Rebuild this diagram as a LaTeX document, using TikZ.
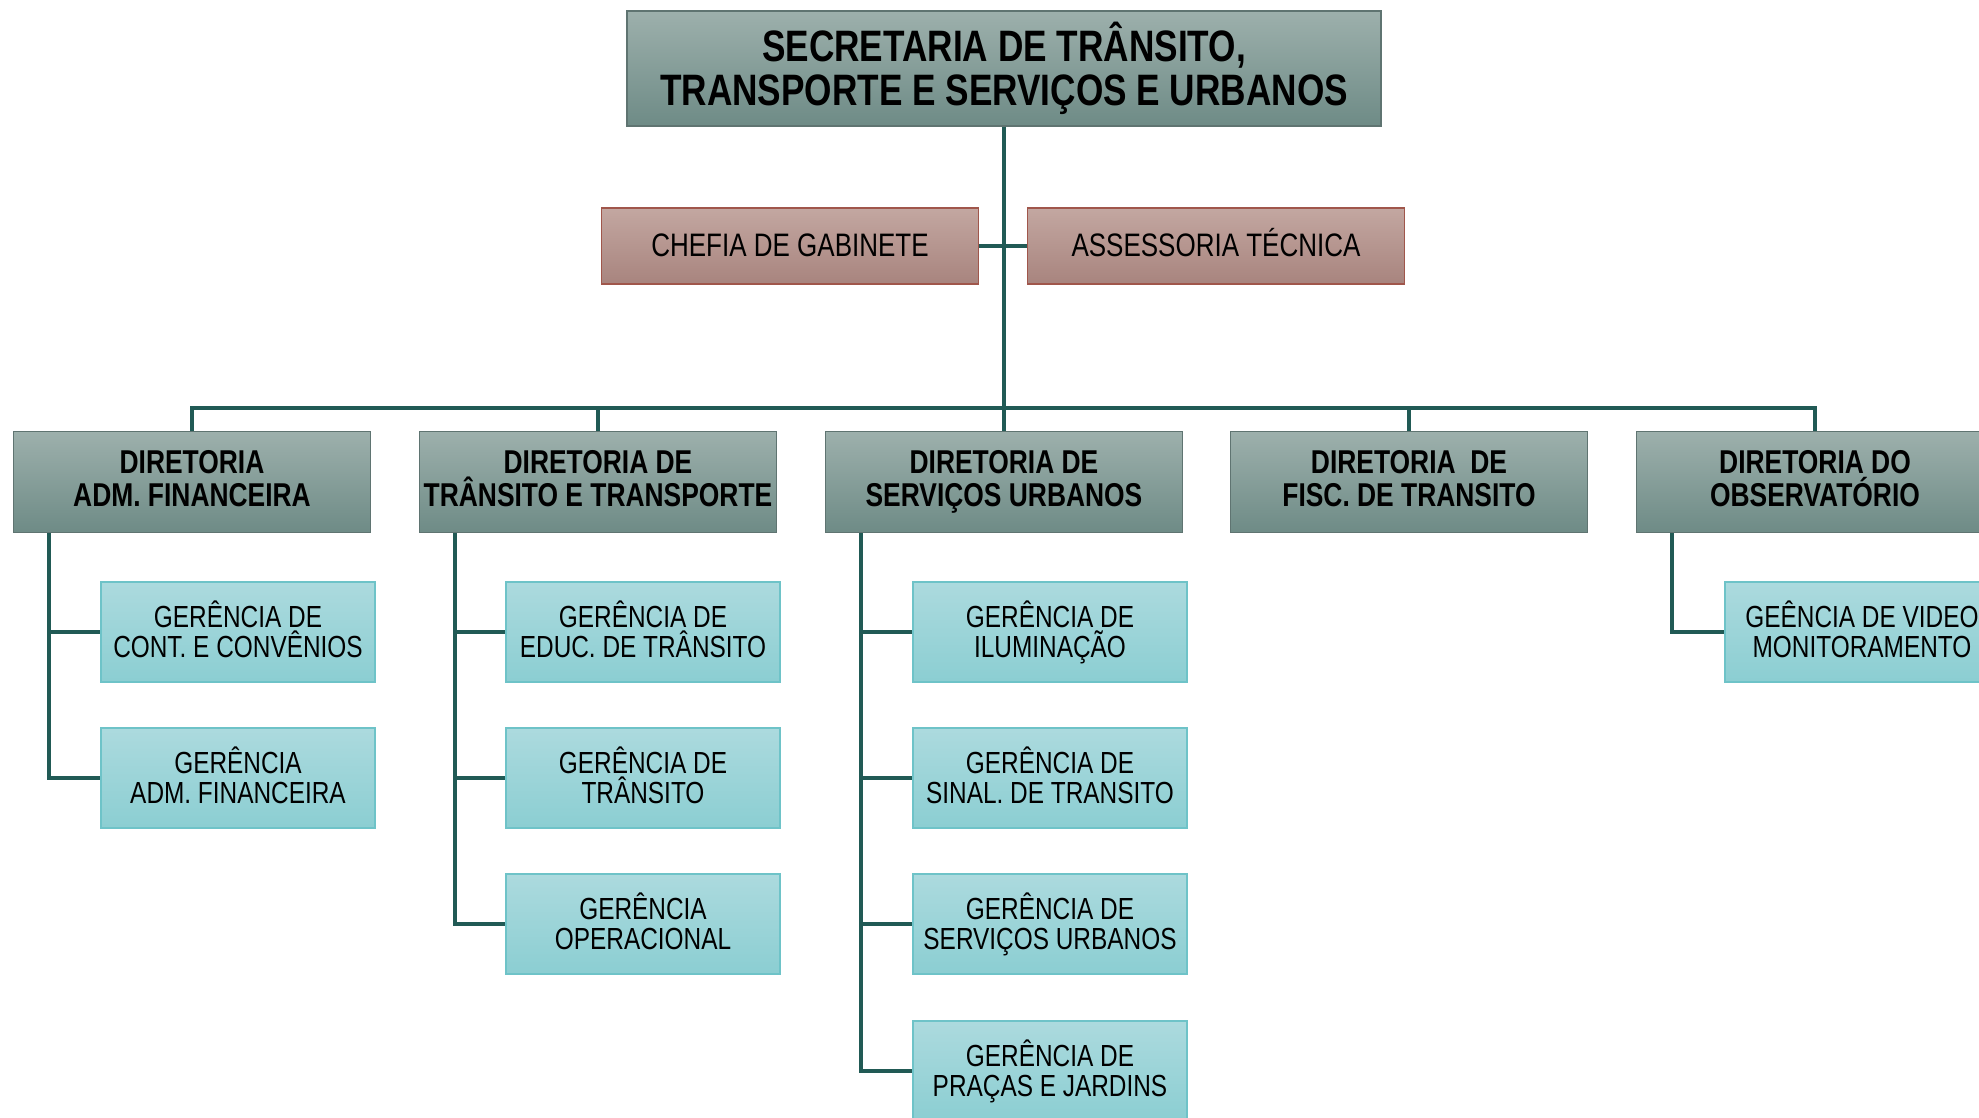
\documentclass[tikz,border=0pt]{standalone}
\usepackage{fontspec}
\setmainfont{Liberation Sans}[FakeStretch=0.8]
\usetikzlibrary{calc}

\definecolor{linkteal}{HTML}{215A55}
\definecolor{graytop}{HTML}{9DB0AC}
\definecolor{graybot}{HTML}{6E8B86}
\definecolor{graydraw}{HTML}{5F7471}
\definecolor{rosetop}{HTML}{C3A7A1}
\definecolor{rosebot}{HTML}{A8847E}
\definecolor{rosedraw}{HTML}{A0564B}
\definecolor{cyantop}{HTML}{ACDADE}
\definecolor{cyanbot}{HTML}{8BCED2}
\definecolor{cyandraw}{HTML}{6EC3C8}

\tikzset{
	link/.style={draw=linkteal, line width=3.5pt},
	evenlines/.style={execute at begin node=\vphantom{ÊÇ}, execute at end node=\vphantom{ÊÇ}},
	secbox/.style={evenlines, draw=graydraw, line width=1.2pt, top color=graytop, bottom color=graybot, inner sep=0pt, align=center, minimum width=754pt, minimum height=115pt, font=\bfseries\fontsize{44}{44}\selectfont},
	dirbox/.style={evenlines, draw=graydraw, line width=1.2pt, top color=graytop, bottom color=graybot, inner sep=0pt, align=center, minimum width=357pt, minimum height=101pt, font=\bfseries\fontsize{33}{33}\selectfont},
	staffbox/.style={evenlines, draw=rosedraw, line width=1.2pt, top color=rosetop, bottom color=rosebot, inner sep=0pt, align=center, minimum width=377pt, minimum height=76pt, font=\fontsize{32.5}{32}\selectfont},
	gerbox/.style={evenlines, draw=cyandraw, line width=1.2pt, top color=cyantop, bottom color=cyanbot, inner sep=0pt, align=center, minimum width=274pt, minimum height=100pt, font=\fontsize{30.5}{30}\selectfont}
}

\begin{document}
\begin{tikzpicture}[x=1pt, y=-1pt]
			%%%%% START %%%%%
			\clip (0, 0) rectangle (1979, 1117);
			
			\node[secbox] (sec) at (1004, 68.5) {SECRETARIA DE TRÂNSITO,\\TRANSPORTE E SERVIÇOS E URBANOS};
			
			\node[staffbox] (chefia) at (790, 246) {CHEFIA DE GABINETE};
			\node[staffbox] (assess) at (1216, 246) {ASSESSORIA TÉCNICA};
			
			\node[dirbox] (dadm) at (192, 482) {DIRETORIA\\ADM. FINANCEIRA};
			\node[dirbox] (dtt) at (598, 482) {DIRETORIA DE\\TRÂNSITO E TRANSPORTE};
			\node[dirbox] (dsu) at (1004, 482) {DIRETORIA DE\\SERVIÇOS URBANOS};
			\node[dirbox] (dfisc) at (1409, 482) {DIRETORIA\ \ DE\\FISC. DE TRANSITO};
			\node[dirbox] (dobs) at (1815, 482) {DIRETORIA DO\\OBSERVATÓRIO};
			
			\node[gerbox] (gconv) at (238, 632) {GERÊNCIA DE\\CONT. E CONVÊNIOS};
			\node[gerbox] (gadm) at (238, 778) {GERÊNCIA\\ADM. FINANCEIRA};
			
			\node[gerbox] (geduc) at (643, 632) {GERÊNCIA DE\\EDUC. DE TRÂNSITO};
			\node[gerbox] (gtran) at (643, 778) {GERÊNCIA DE\\TRÂNSITO};
			\node[gerbox] (goper) at (643, 924) {GERÊNCIA\\OPERACIONAL};
			
			\node[gerbox] (gilum) at (1050, 632) {GERÊNCIA DE\\ILUMINAÇÃO};
			\node[gerbox] (gsinal) at (1050, 778) {GERÊNCIA DE\\SINAL. DE TRANSITO};
			\node[gerbox] (gserv) at (1050, 924) {GERÊNCIA DE\\SERVIÇOS URBANOS};
			\node[gerbox] (gpraca) at (1050, 1071) {GERÊNCIA DE\\PRAÇAS E JARDINS};
			
			\node[gerbox] (gvideo) at (1862, 632) {GEÊNCIA DE VIDEO\\MONITORAMENTO};
			
			% tronco e barramento
			\coordinate (bus) at (1004, 408);
			\draw[link] (sec.south) -- (bus);
			\draw[link] (chefia.east) -- (assess.west);
			\draw[link] (dadm.north) |- (bus) -| (dobs.north);
			\draw[link] (dtt.north) -- (dtt.north |- bus);
			\draw[link] (dsu.north) -- (bus);
			\draw[link] (dfisc.north) -- (dfisc.north |- bus);
			
			% gerencias
			\draw[link] ($(dadm.south west)+(36, 0)$) |- (gconv.west);
			\draw[link] ($(dadm.south west)+(36, 0)$) |- (gadm.west);
			\draw[link] ($(dtt.south west)+(36, 0)$) |- (geduc.west);
			\draw[link] ($(dtt.south west)+(36, 0)$) |- (gtran.west);
			\draw[link] ($(dtt.south west)+(36, 0)$) |- (goper.west);
			\draw[link] ($(dsu.south west)+(36, 0)$) |- (gilum.west);
			\draw[link] ($(dsu.south west)+(36, 0)$) |- (gsinal.west);
			\draw[link] ($(dsu.south west)+(36, 0)$) |- (gserv.west);
			\draw[link] ($(dsu.south west)+(36, 0)$) |- (gpraca.west);
			\draw[link] ($(dobs.south west)+(36, 0)$) |- (gvideo.west);
			
			%%%%% END %%%%%
\end{tikzpicture}
\end{document}
